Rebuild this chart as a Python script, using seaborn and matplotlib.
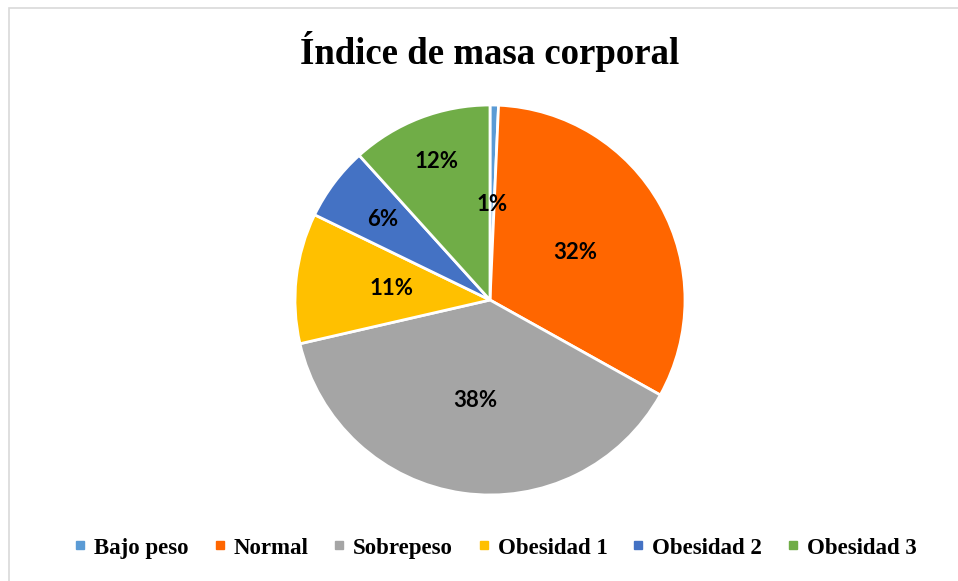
import numpy as np
import matplotlib
matplotlib.use("Agg")
import matplotlib.pyplot as plt
from matplotlib.lines import Line2D
from matplotlib.patches import Rectangle
import seaborn as sns

categories = ["Bajo peso", "Normal", "Sobrepeso", "Obesidad 1", "Obesidad 2", "Obesidad 3"]
values = [0.7, 32.4, 38.3, 10.8, 6.1, 11.7]
pct_labels = ["1%", "32%", "38%", "11%", "6%", "12%"]
colors = ["#5B9BD5", "#FF6600", "#A5A5A5", "#FFC000", "#4472C4", "#70AD47"]
label_dist = [0.49, 0.50, 0.52, 0.51, 0.69, 0.76]

sns.set_theme(style="white")

fig = plt.figure(figsize=(9.58, 5.81), dpi=100)
# chart area border (only left and top edges fall inside the picture)
fig.patches.append(Rectangle((9 / 958, -0.5), 2, 1.5 - 8 / 581, transform=fig.transFigure,
                             facecolor="none", edgecolor="#D9D9D9", linewidth=1.2))

ax = fig.add_axes([(490 - 195) / 958, (581 - 495) / 581, 390 / 958, 390 / 581])
wedges, _ = ax.pie(values, colors=colors, startangle=90, counterclock=False,
                   wedgeprops=dict(edgecolor="white", linewidth=2.0))
ax.set_xlim(-1, 1)
ax.set_ylim(-1, 1)
ax.set_aspect("equal")
ax.axis("off")

for w, lab, d in zip(wedges, pct_labels, label_dist):
    mid = np.deg2rad((w.theta1 + w.theta2) / 2)
    ax.text(d * np.cos(mid), d * np.sin(mid), lab, ha="center", va="center",
            fontsize=16, fontweight="bold", family="Lato", color="black")

fig.text(490 / 958, 1 - 51 / 581, "Índice de masa corporal", ha="center", va="center",
         fontsize=26.5, fontweight="bold", family="Liberation Serif", color="black")

handles = [Line2D([], [], marker="s", linestyle="none", markersize=6,
                  markerfacecolor=c, markeredgecolor=c) for c in colors]
fig.legend(handles, categories, loc="center", bbox_to_anchor=(495 / 958, 1 - 548 / 581),
           ncol=6, frameon=False, handlelength=0.6, handletextpad=0.3, columnspacing=1.05,
           labelcolor="black", prop=dict(family="Liberation Serif", weight="bold", size=16.5))

fig.savefig("out.png", dpi=100)
